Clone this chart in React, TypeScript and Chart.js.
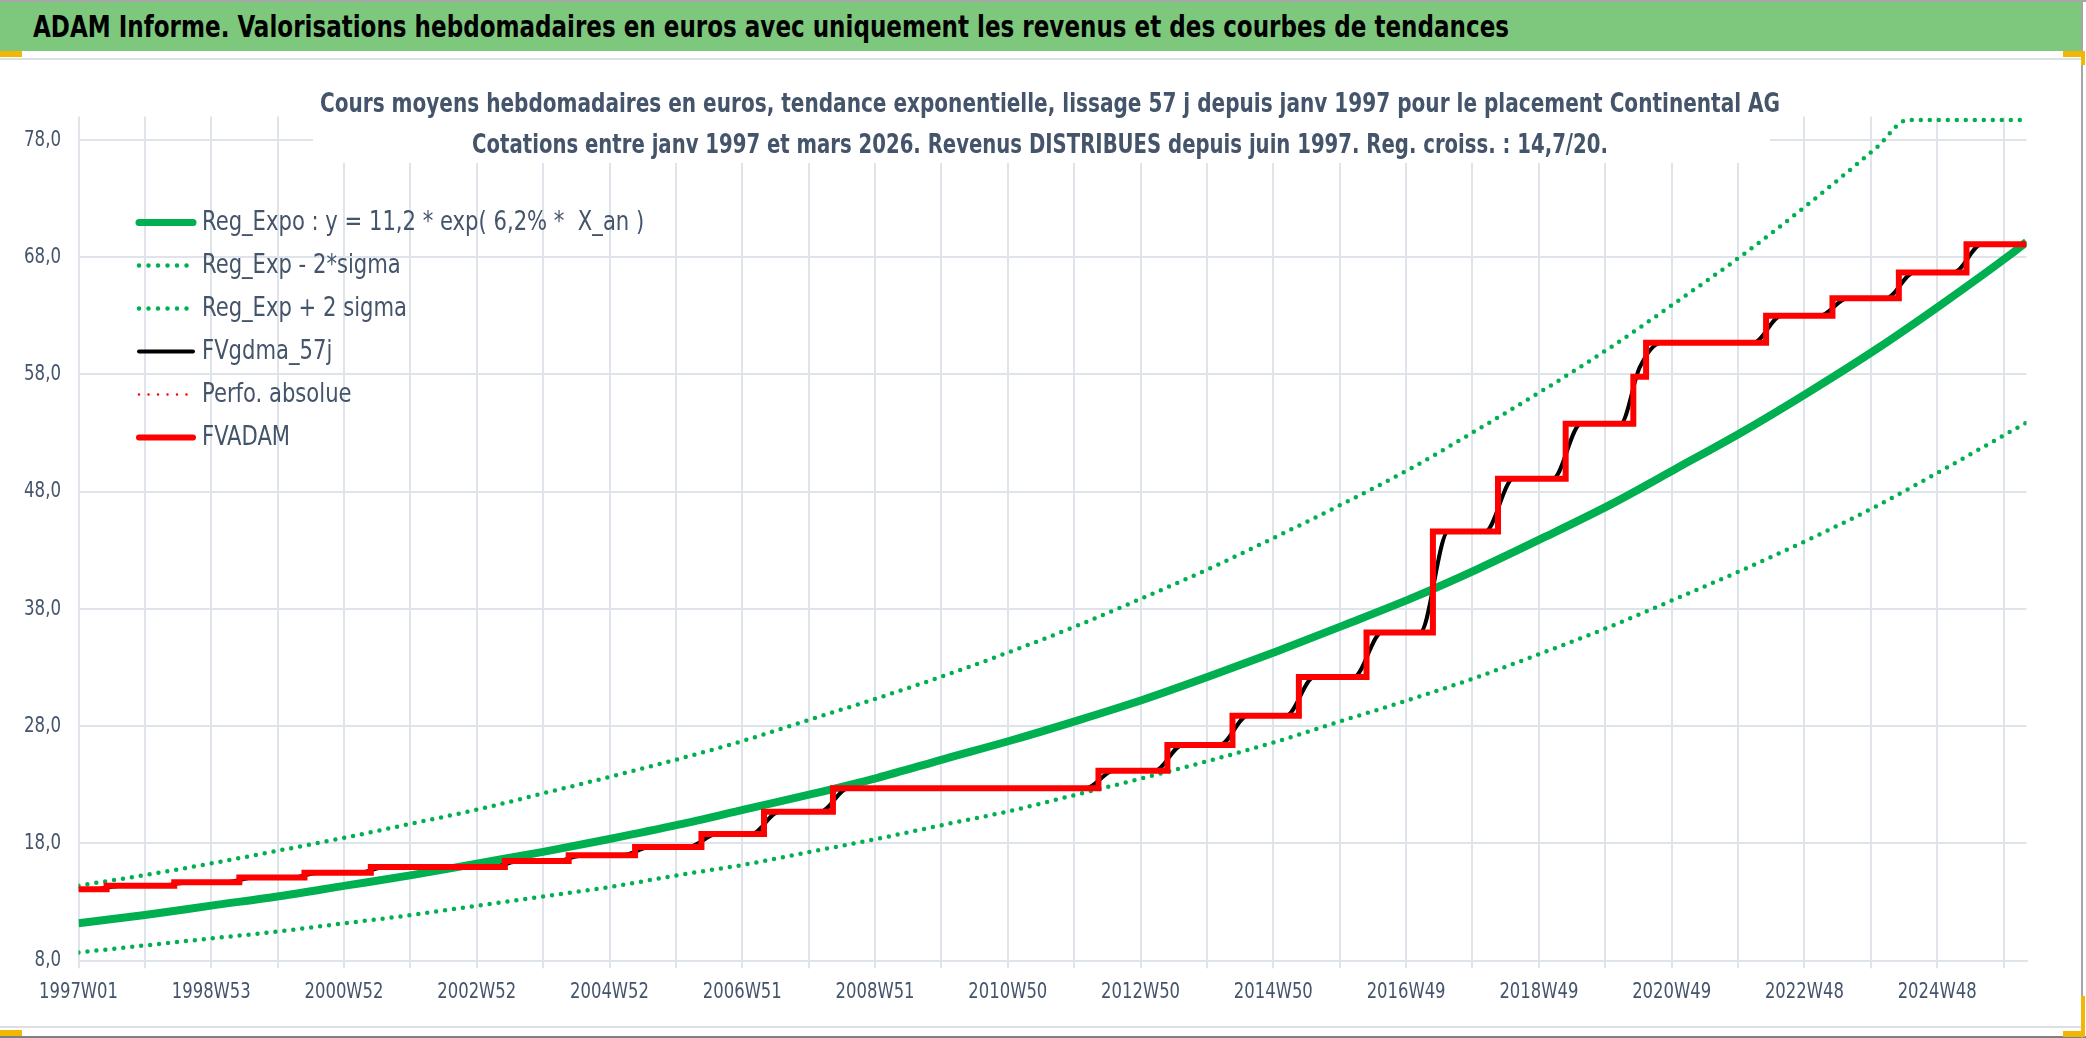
import React, { useEffect, useRef } from 'react';
import { Chart, registerables } from 'chart.js';

Chart.register(...registerables);

const FONT = '"DejaVu Sans Condensed", "DejaVu Sans", sans-serif';
const TEXT_COLOR = '#44546a';
const GRID_COLOR = '#dfe3ea';

// x = week index counted from 1997W01
const trendWeeks = [0, 52, 104, 157, 209, 261, 313, 365, 417, 470, 522, 574, 626, 678, 731, 783,
  835, 887, 939, 991, 1044, 1096, 1148, 1200, 1252, 1305, 1357, 1409, 1461, 1513, 1526];
const regExpo = [11.2, 11.9, 12.7, 13.5, 14.4, 15.3, 16.3, 17.3, 18.4, 19.6, 20.9, 22.2, 23.6, 25.2, 26.8, 28.5,
  30.3, 32.3, 34.4, 36.6, 38.9, 41.4, 44.1, 46.9, 50.0, 53.2, 56.6, 60.2, 64.1, 68.2, 69.3];
const regMinus2Sigma = [8.7, 9.3, 9.9, 10.5, 11.2, 11.9, 12.7, 13.5, 14.3, 15.3, 16.2, 17.3, 18.4, 19.6, 20.8, 22.2,
  23.6, 25.1, 26.7, 28.5, 30.3, 32.2, 34.3, 36.5, 38.9, 41.4, 44.0, 46.8, 49.9, 53.1, 53.9];
const plusWeeks = [0, 52, 104, 157, 209, 261, 313, 365, 417, 470, 522, 574, 626, 678, 731, 783,
  835, 887, 939, 991, 1044, 1096, 1148, 1200, 1252, 1305, 1357, 1409, 1433, 1461, 1513, 1526];
const regPlus2Sigma = [14.4, 15.3, 16.3, 17.4, 18.5, 19.7, 20.9, 22.3, 23.7, 25.2, 26.8, 28.6, 30.4, 32.3, 34.4, 36.6,
  39.0, 41.5, 44.2, 47.0, 50.0, 53.3, 56.7, 60.3, 64.2, 68.3, 72.7, 77.4, 79.7, 79.7, 79.7, 79.7];
const gdmaWeeks = [0, 12, 34, 65, 87, 116, 138, 167, 189, 219, 241, 324, 346, 374, 396, 426, 448, 478, 500,
  527, 549, 581, 603, 789, 811, 843, 865, 894, 916, 946, 968, 999, 1021, 1051, 1073, 1102, 1124,
  1155, 1177, 1208, 1223, 1240, 1312, 1334, 1364, 1386, 1416, 1438, 1469, 1491, 1526];
const gdma57j = [14.1, 14.1, 14.4, 14.4, 14.7, 14.7, 15.1, 15.1, 15.5, 15.5, 16.0, 16.0, 16.5, 16.5, 17.0, 17.0, 17.7, 17.7, 18.8,
  18.8, 20.7, 20.7, 22.7, 22.7, 24.2, 24.2, 26.4, 26.4, 28.9, 28.9, 32.2, 32.2, 36.0, 36.0, 44.6, 44.6, 49.1,
  49.1, 53.8, 53.8, 58.6, 60.7, 60.7, 63.0, 63.0, 64.5, 64.5, 66.7, 66.7, 69.1, 69.1];
const adamWeeks = [0, 22, 75, 126, 177, 229, 334, 384, 436, 488, 537, 591, 799, 853, 904, 956, 1009,
  1061, 1112, 1165, 1218, 1228, 1322, 1374, 1426, 1479, 1526];
const fvAdam = [14.1, 14.4, 14.7, 15.1, 15.5, 16.0, 16.5, 17.0, 17.7, 18.8, 20.7, 22.7, 24.2, 26.4, 28.9, 32.2, 36.0,
  44.6, 49.1, 53.8, 57.8, 60.7, 63.0, 64.5, 66.7, 69.1, 69.1];

const xTickLabels = ['1997W01', '1998W53', '2000W52', '2002W52', '2004W52', '2006W51', '2008W51', '2010W50',
  '2012W50', '2014W50', '2016W49', '2018W49', '2020W49', '2022W48', '2024W48'];
const xGridWeeks = [0, 52, 104, 156, 208, 260, 312, 364, 416, 468, 520, 572, 624, 676, 728, 780, 832, 884,
  936, 988, 1040, 1092, 1144, 1196, 1248, 1300, 1352, 1404, 1456, 1508];
const yTicks = [8, 18, 28, 38, 48, 58, 68, 78];

const titleLines = [
  'Cours moyens hebdomadaires en euros, tendance exponentielle, lissage 57 j depuis janv 1997 pour le placement Continental AG',
  'Cotations entre janv 1997 et mars 2026. Revenus DISTRIBUES depuis juin 1997. Reg. croiss. : 14,7/20.',
];

const toPoints = (xs: number[], ys: number[]) => xs.map((x, i) => ({ x, y: ys[i] }));

// the reference uses a narrow face: draw text squeezed horizontally around its anchor
const fillNarrow = (ctx: CanvasRenderingContext2D, text: string, x: number, y: number, k: number) => {
  ctx.save();
  ctx.translate(x, y);
  ctx.scale(k, 1);
  ctx.fillText(text, 0, 0);
  ctx.restore();
};

const narrowTicks = {
  id: 'narrowTicks',
  afterDraw(chart: any) {
    const { ctx } = chart;
    const xs = chart.scales.x;
    const ys = chart.scales.y;
    ctx.save();
    ctx.fillStyle = TEXT_COLOR;
    ctx.font = `22px ${FONT}`;
    ctx.textBaseline = 'middle';
    ctx.textAlign = 'center';
    xs.ticks.forEach((t: any, i: number) => {
      if (i % 2 !== 0) return;
      fillNarrow(ctx, xTickLabels[i / 2], xs.getPixelForValue(t.value), xs.top + 31.5, 0.83);
    });
    ctx.textAlign = 'right';
    ys.ticks.forEach((t: any) => {
      const label = Number(t.value).toFixed(1).replace('.', ',');
      fillNarrow(ctx, label, ys.right - 17.5, ys.getPixelForValue(t.value), 0.84);
    });
    ctx.restore();
  },
};

// legend drawn inside the plot area, top-left
const insideLegend = {
  id: 'insideLegend',
  afterDraw(chart: any) {
    const { ctx, chartArea } = chart;
    const x0 = chartArea.left + 57.5;
    let y = chartArea.top + 106;
    ctx.save();
    ctx.font = `27px ${FONT}`;
    ctx.textBaseline = 'middle';
    ctx.textAlign = 'left';
    chart.data.datasets.forEach((ds: any) => {
      ctx.beginPath();
      ctx.strokeStyle = ds.borderColor;
      ctx.lineWidth = Math.min(ds.borderWidth, 7);
      ctx.setLineDash(ds.borderDash ? [0, 9.5] : []);
      ctx.lineCap = 'round';
      ctx.moveTo(x0 + 3, y);
      ctx.lineTo(x0 + 57, y);
      ctx.stroke();
      ctx.setLineDash([]);
      ctx.fillStyle = TEXT_COLOR;
      fillNarrow(ctx, ds.label, x0 + 66, y, 0.87);
      y += 43;
    });
    ctx.restore();
  },
};

const AdamChart: React.FC = () => {
  const canvasRef = useRef<HTMLCanvasElement>(null);
  const chartInstance = useRef<Chart | null>(null);

  useEffect(() => {
    if (!canvasRef.current) return;
    if (chartInstance.current) chartInstance.current.destroy();

    chartInstance.current = new Chart(canvasRef.current, {
      type: 'line',
      data: {
        datasets: [
          {
            label: 'Reg_Expo : y = 11,2 * exp( 6,2% *  X_an )',
            data: toPoints(trendWeeks, regExpo),
            borderColor: '#00b050',
            borderWidth: 8,
            cubicInterpolationMode: 'monotone',
            order: 3,
          },
          {
            label: 'Reg_Exp - 2*sigma',
            data: toPoints(trendWeeks, regMinus2Sigma),
            borderColor: '#00b050',
            borderWidth: 4.5,
            borderDash: [0, 9],
            borderCapStyle: 'round',
            cubicInterpolationMode: 'monotone',
            order: 4,
          },
          {
            label: 'Reg_Exp + 2 sigma',
            data: toPoints(plusWeeks, regPlus2Sigma),
            borderColor: '#00b050',
            borderWidth: 4.5,
            borderDash: [0, 9],
            borderCapStyle: 'round',
            cubicInterpolationMode: 'monotone',
            order: 4,
          },
          {
            label: 'FVgdma_57j',
            data: toPoints(gdmaWeeks, gdma57j),
            borderColor: '#000000',
            borderWidth: 4,
            cubicInterpolationMode: 'monotone',
            order: 2,
          },
          {
            label: 'Perfo. absolue',
            data: [],
            borderColor: '#ff0000',
            borderWidth: 2.5,
            borderDash: [0, 8],
            borderCapStyle: 'round',
            order: 1,
          },
          {
            label: 'FVADAM',
            data: toPoints(adamWeeks, fvAdam),
            borderColor: '#ff0000',
            borderWidth: 6,
            stepped: true,
            borderJoinStyle: 'miter',
            order: 0,
          },
        ],
      },
      options: {
        animation: false,
        responsive: true,
        maintainAspectRatio: false,
        events: [],
        elements: { point: { radius: 0 } },
        layout: { padding: { top: 56.5, right: 51.5, bottom: 0, left: 0 } },
        plugins: {
          legend: { display: false },
          tooltip: { enabled: false },
        },
        scales: {
          x: {
            type: 'linear',
            min: 0,
            max: 1526,
            afterBuildTicks: (scale: any) => {
              scale.ticks = xGridWeeks.map((value) => ({ value }));
            },
            afterFit: (scale: any) => {
              scale.height = 65.3;
            },
            grid: { color: GRID_COLOR, lineWidth: 2, tickLength: 7.5 },
            border: { display: true, color: GRID_COLOR, width: 2 },
            ticks: { display: false, autoSkip: false, maxRotation: 0 },
          },
          y: {
            min: 8,
            max: 80,
            afterBuildTicks: (scale: any) => {
              scale.ticks = yTicks.map((value) => ({ value }));
            },
            afterFit: (scale: any) => {
              scale.width = 78.5;
            },
            grid: { color: GRID_COLOR, lineWidth: 2, drawTicks: false },
            border: { display: false },
            ticks: { display: false },
          },
        },
      },
      plugins: [insideLegend, narrowTicks],
    } as any);

    return () => {
      if (chartInstance.current) {
        chartInstance.current.destroy();
        chartInstance.current = null;
      }
    };
  }, []);

  return <canvas ref={canvasRef}></canvas>;
};

const orange = '#f2b705';

export default function App() {
  return (
    <div
      style={{
        position: 'fixed',
        left: 0,
        top: 0,
        width: 2086,
        height: 1038,
        background: '#ffffff',
        overflow: 'hidden',
        fontFamily: FONT,
      }}
    >
      <div style={{ position: 'absolute', left: 0, top: 0, width: 2086, height: 2, background: '#a6a6a6' }} />
      <div
        style={{
          position: 'absolute',
          left: 0,
          top: 2,
          width: 2082,
          height: 49,
          background: '#7ec87e',
        }}
      >
        <span
          style={{
            position: 'absolute',
            left: 33,
            top: 5,
            lineHeight: '40px',
            color: '#000',
            fontWeight: 'bold',
            fontSize: 30,
            whiteSpace: 'nowrap',
            transform: 'scaleX(0.854)',
            transformOrigin: 'left center',
          }}
        >
          ADAM Informe. Valorisations hebdomadaires en euros avec uniquement les revenus et des courbes de tendances
        </span>
      </div>
      <div style={{ position: 'absolute', left: 0, top: 58, width: 2082, height: 2, background: '#dcdfe4' }} />
      <div style={{ position: 'absolute', left: 0, top: 1026, width: 2082, height: 2, background: '#dcdfe4' }} />
      <div style={{ position: 'absolute', left: 0, top: 1036, width: 2086, height: 2, background: '#7f7f7f' }} />
      <div style={{ position: 'absolute', left: 2081, top: 0, width: 2, height: 1038, background: '#a6a6a6' }} />
      <div style={{ position: 'absolute', left: 0, top: 51, width: 22, height: 6, background: orange }} />
      <div style={{ position: 'absolute', left: 0, top: 1030, width: 22, height: 6, background: orange }} />
      <div style={{ position: 'absolute', left: 2063, top: 51, width: 22, height: 6, background: orange }} />
      <div style={{ position: 'absolute', left: 2081, top: 51, width: 4, height: 14, background: orange }} />
      <div style={{ position: 'absolute', left: 2081, top: 996, width: 4, height: 41, background: orange }} />
      <div style={{ position: 'absolute', left: 2063, top: 1031, width: 22, height: 6, background: orange }} />

      <div style={{ position: 'absolute', left: 0, top: 60, width: 2078, height: 966 }}>
        <AdamChart />
      </div>

      <div
        style={{
          position: 'absolute',
          left: 313,
          top: 80,
          width: 1457,
          height: 83,
          background: '#ffffff',
        }}
      >
        {titleLines.map((line, i) => (
          <div
            key={i}
            style={{
              position: 'absolute',
              left: i === 0 ? 737 : 727,
              top: 2 + i * 41,
              lineHeight: '41px',
              color: TEXT_COLOR,
              fontWeight: 'bold',
              fontSize: 27,
              whiteSpace: 'nowrap',
              transform: `translateX(-50%) scaleX(${i === 0 ? 0.826 : 0.81})`,
              transformOrigin: 'center center',
            }}
          >
            {line}
          </div>
        ))}
      </div>
    </div>
  );
}
